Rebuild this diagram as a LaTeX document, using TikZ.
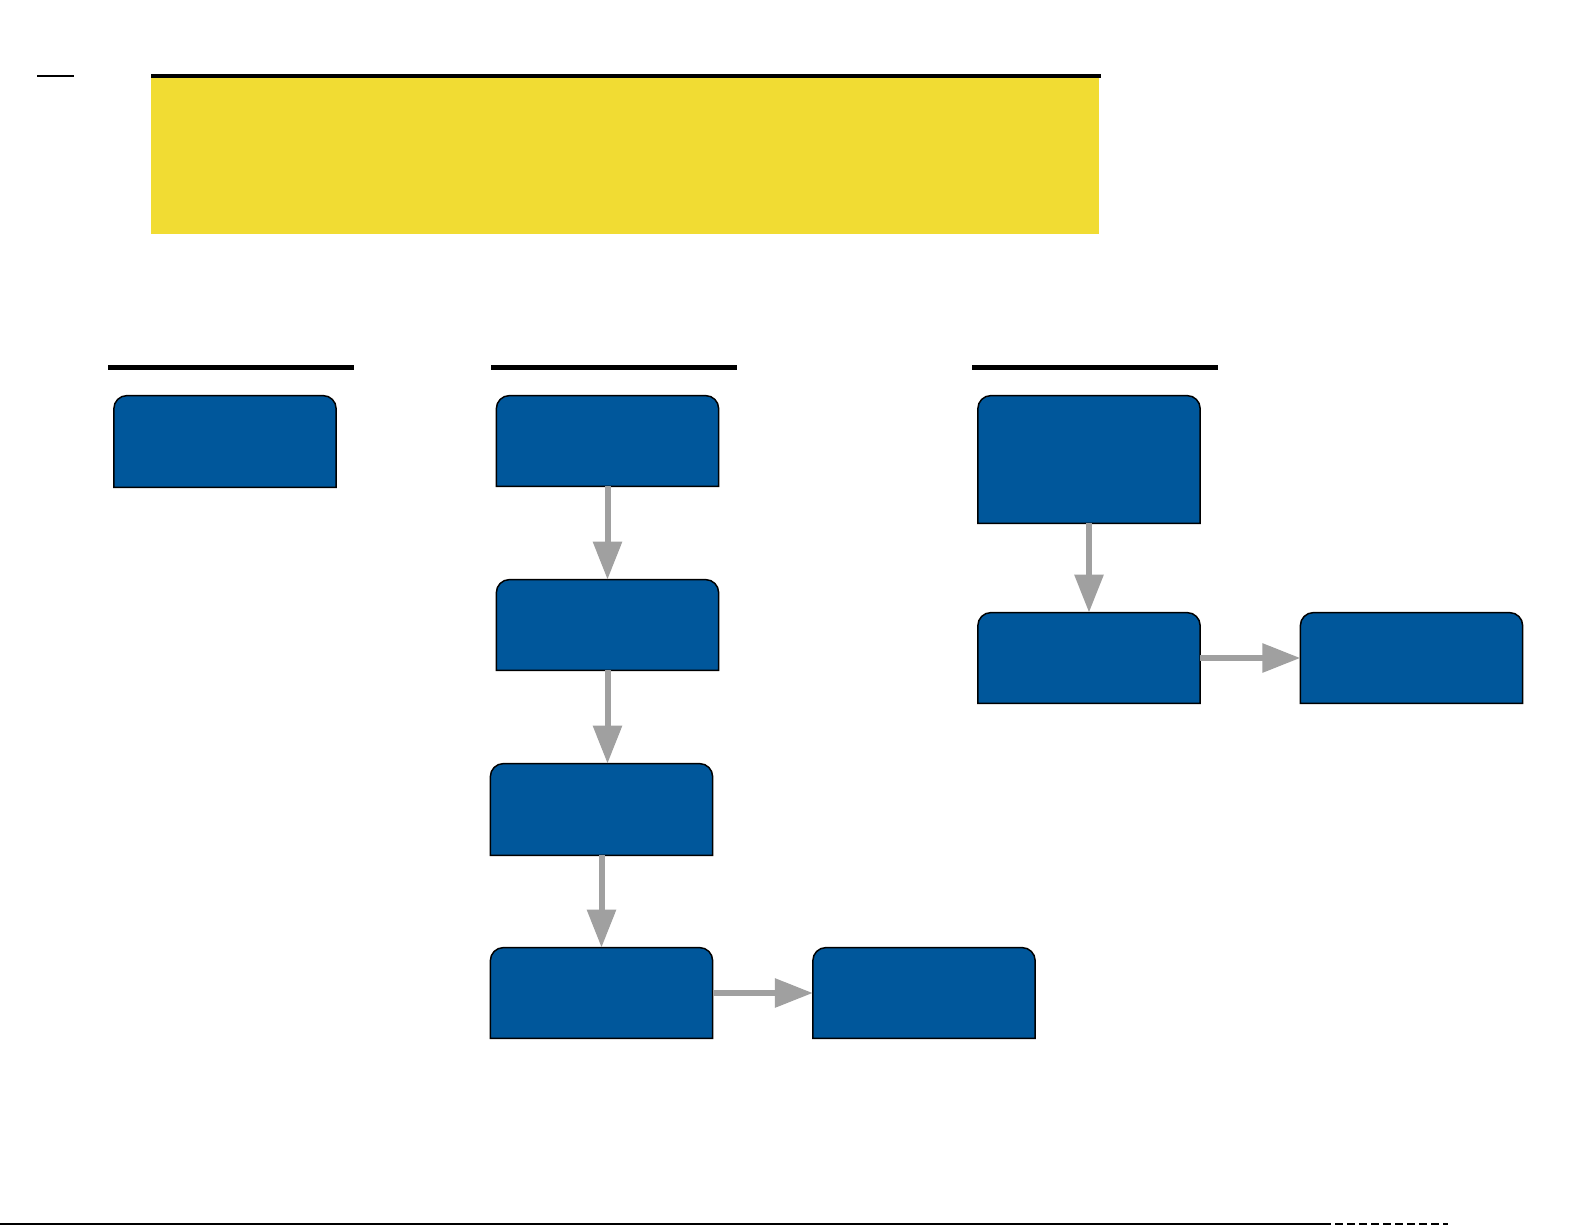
\documentclass[tikz,border=0pt]{standalone}
\usetikzlibrary{arrows.meta}
\definecolor{boxBlue}{RGB}{0,87,155}
\definecolor{bannerYellow}{RGB}{241,220,51}
\definecolor{arrowGray}{RGB}{160,160,160}
\begin{document}
\begin{tikzpicture}
[x=0.5pt,y=-0.5pt,
  lineDecorate/.style={draw=arrowGray,line width=3pt,-{Triangle[length=19pt,width=14pt]}},
  nodeDecorate/.style={shape=rectangle,inner sep=0pt,minimum width=110.75pt},
  boxDecorate/.style={fill=boxBlue,draw=black,line width=0.75pt},
  ruleDecorate/.style={line width=2.5pt}]
\useasboundingbox (0,0) rectangle (1585,1225);
%% banner and page rules
\fill[bannerYellow] (151,78) rectangle (1099,234);
\fill (151,74) rectangle (1101,78);
\draw[line width=1pt] (37,76) -- (74,76);
\draw[line width=1pt] (0,1224) -- (1323,1224);
\draw[line width=1pt,dash pattern=on 4pt off 2pt] (1323,1224) -- (1448,1224);
%% column rules
\foreach \xa/\xb in {108/354, 491/737, 972/1218}
{
  \draw[ruleDecorate] (\xa,367.5) -- (\xb,367.5);
}
%% nodes or boxes
\foreach \nodename/\x/\y/\h in {
  a1/225/441.5/45.5,
  b1/607.5/441/45,
  b2/607.5/625/45,
  b3/601.5/809.5/45.5,
  b4/601.5/993/45,
  b5/924/993/45,
  c1/1089/459.5/63.5,
  c2/1089/658/45,
  c3/1411.5/658/45}
{
  \node (\nodename) at (\x,\y) [nodeDecorate,minimum height=\h pt] {};
  \filldraw[boxDecorate] (\nodename.south west) [rounded corners=6.5pt]
    -- (\nodename.north west) -- (\nodename.north east) [sharp corners]
    -- (\nodename.south east) -- cycle;
}
%% edges or arrows
\path
\foreach \startnode/\endnode in {b1/b2, b2/b3, b3/b4, c1/c2}
{
  (\startnode.south) edge[lineDecorate] (\startnode.south |- \endnode.north)
};
\path
\foreach \startnode/\endnode in {b4/b5, c2/c3}
{
  (\startnode.east) edge[lineDecorate] (\endnode.west)
};
\end{tikzpicture}
\end{document}
